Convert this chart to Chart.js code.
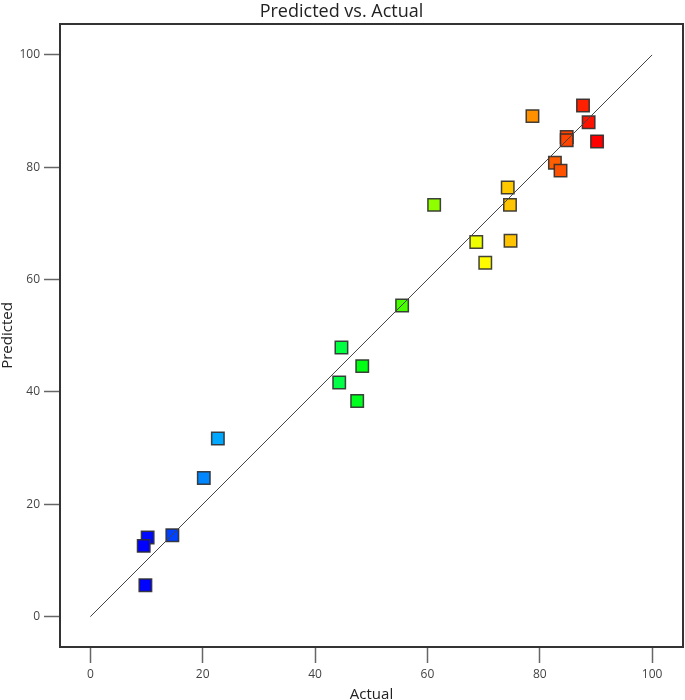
<!DOCTYPE html>
<html>
<head>
<meta charset="utf-8">
<script src="https://cdn.jsdelivr.net/npm/chart.js@4/dist/chart.umd.min.js"></script>
<style>
  html, body { margin: 0; padding: 0; background: #fff; overflow: hidden; }
  canvas { display: block; }
</style>
</head>
<body>
<canvas id="c" width="685" height="700"></canvas>
<script>
const chartTitle = "Predicted vs. Actual";
const xTitle = "Actual";
const yTitle = "Predicted";
const actual = [22.7, 20.2, 10.2, 9.5, 14.6, 9.8,
                55.5, 44.7, 48.4, 44.3, 47.5,
                61.2, 74.3, 74.7, 68.7, 74.8, 70.3,
                78.7, 87.7, 88.7, 90.2, 84.8, 84.8, 82.7, 83.7];
const predicted = [31.7, 24.7, 14.1, 12.6, 14.5, 5.6,
                   55.4, 47.9, 44.6, 41.7, 38.4,
                   73.3, 76.4, 73.3, 66.7, 66.9, 63.0,
                   89.1, 91.0, 88.0, 84.6, 85.4, 84.8, 80.8, 79.4];
const tickValues = [0, 20, 40, 60, 80, 100];
const refLine = [0, 100];

// jet-like colour map by actual value
function jet(v, lo, hi) {
  const t = Math.max(0, Math.min(1, (v - lo) / (hi - lo)));
  const stops = [[0, [0,0,255]], [0.25, [0,255,255]], [0.5, [0,255,0]], [0.75, [255,255,0]], [1, [255,0,0]]];
  for (let i = 1; i < stops.length; i++) {
    if (t <= stops[i][0]) {
      const a = stops[i-1], b = stops[i];
      const f = (t - a[0]) / (b[0] - a[0]);
      const c = a[1].map((x, k) => Math.round(x + (b[1][k] - x) * f));
      return `rgb(${c[0]},${c[1]},${c[2]})`;
    }
  }
  return 'rgb(255,0,0)';
}
const lo = Math.min(...actual), hi = Math.max(...actual);
const pts = actual.map((a, i) => ({ x: a, y: predicted[i] }));
const colors = actual.map(a => jet(a, lo, hi));

const frame = {
  id: 'frame',
  afterDraw(chart) {
    const { ctx, chartArea: a } = chart;
    ctx.save();
    ctx.strokeStyle = '#333';
    ctx.lineWidth = 2;
    ctx.strokeRect(a.left, a.top, a.right - a.left, a.bottom - a.top);
    ctx.restore();
  }
};

const FONT = "'Open Sans', 'Noto Sans', sans-serif";
function axis(title, isX) {
  return {
    type: 'linear',
    min: -5.4,
    max: 105.5,
    afterBuildTicks(s) { s.ticks = tickValues.map(v => ({ value: v })); },
    afterFit(s) {
      if (isX) { s.height = 53; s.paddingLeft = 0; s.paddingRight = 0; }
      else { s.width = 60; s.paddingTop = 0; s.paddingBottom = 0; }
    },
    grid: { display: true, drawOnChartArea: false, drawTicks: true, tickLength: 16, tickColor: '#666', tickWidth: 1.5 },
    border: { display: false },
    ticks: { color: '#444', font: { family: FONT, size: 12 }, padding: 4, autoSkip: false, maxRotation: 0 },
    title: { display: true, text: title, color: '#222', font: { family: FONT, size: 15, lineHeight: 1.0 },
             padding: isX ? { top: 0, bottom: -2 } : { top: 0, bottom: 0 } }
  };
}

new Chart(document.getElementById('c'), {
  type: 'scatter',
  data: {
    datasets: [
      {
        type: 'line',
        data: refLine.map(v => ({ x: v, y: v })),
        borderColor: '#444',
        borderWidth: 1,
        pointRadius: 0,
        order: 0
      },
      {
        data: pts,
        pointStyle: 'rect',
        pointRadius: 8.8,
        backgroundColor: colors,
        borderColor: 'rgba(45,45,45,0.9)',
        borderWidth: 1.5,
        order: 1
      }
    ]
  },
  plugins: [frame],
  options: {
    responsive: false,
    maintainAspectRatio: false,
    animation: false,
    layout: { autoPadding: false, padding: { top: 0, right: 2, bottom: 0, left: 0 } },
    plugins: {
      legend: { display: false },
      tooltip: { enabled: false },
      title: { display: true, text: chartTitle, color: '#222', font: { family: FONT, size: 18, weight: 'normal', lineHeight: 1.2 },
               padding: { top: 1, bottom: 1.4 } }
    },
    scales: { x: axis(xTitle, true), y: axis(yTitle, false) }
  }
});
</script>
</body>
</html>
